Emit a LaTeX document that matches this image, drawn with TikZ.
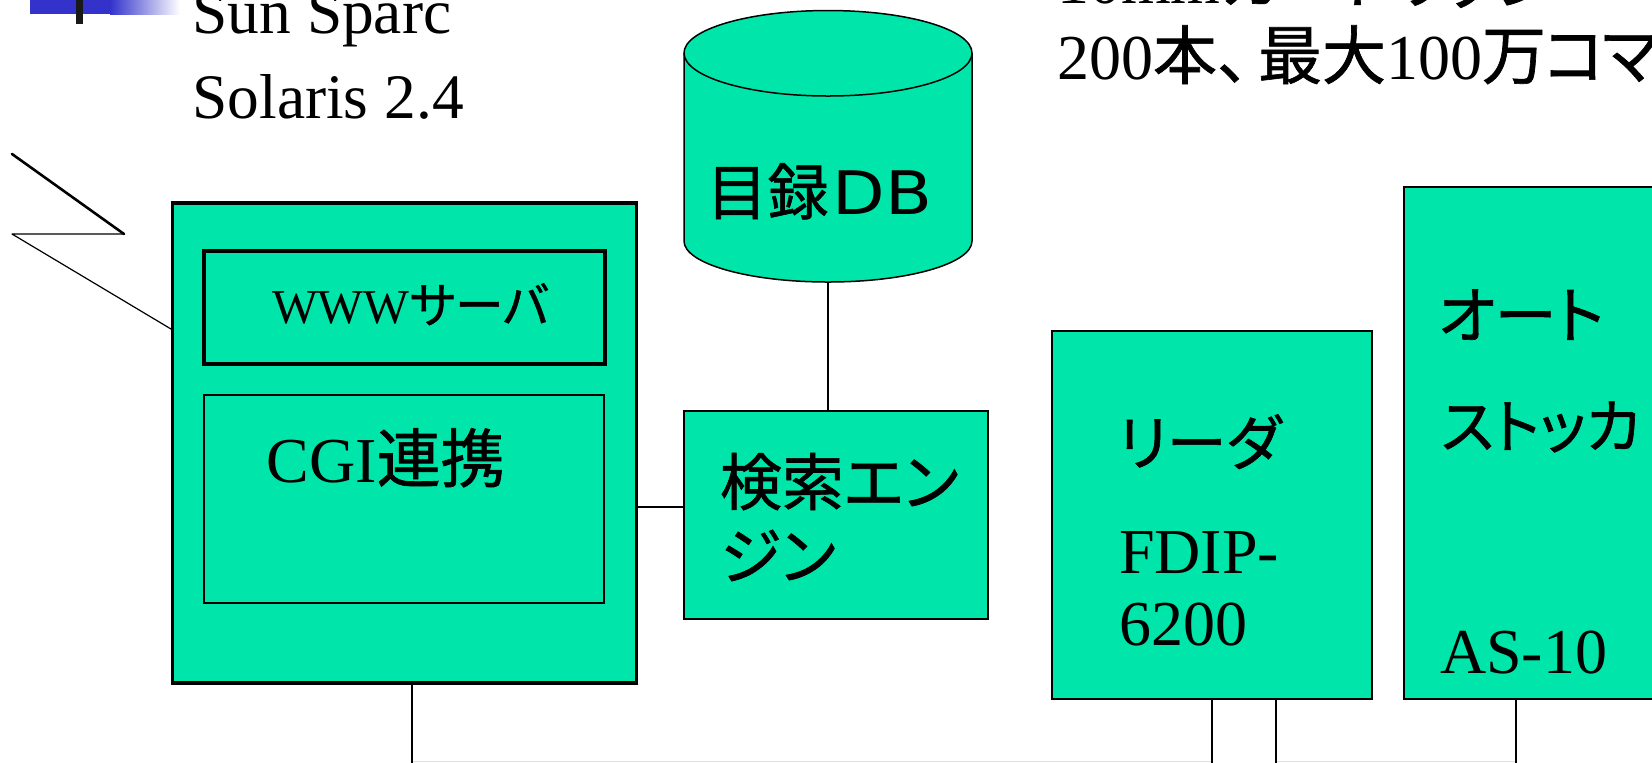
\documentclass[tikz,border=0pt]{standalone}
\usepackage{fontspec}
\setmainfont{Liberation Serif}
\newfontfamily\jpfont[FakeBold=1]{Noto Sans CJK JP}
\newfontfamily\jppfont[RawFeature=+palt,FakeBold=1]{Noto Sans CJK JP}
\newfontfamily\dbfont[FakeStretch=1.14]{DejaVu Sans}
\usepackage{tikz}
\newlength{\slideunit}
\setlength{\slideunit}{0.5pt}
\definecolor{boxgreen}{RGB}{0,230,170}
\definecolor{bulletblue}{RGB}{51,51,204}
\newcommand{\jp}[1]{{\jpfont #1}}
\newcommand{\jpp}[1]{{\jppfont #1}}
\newcommand{\slidesize}[1]{\fontsize{#1}{#1}\selectfont}
\tikzset{
  unit/.style={draw,fill=boxgreen,line width=0.75pt,minimum width=#1,inner sep=0pt,anchor=north west},
  label/.style={anchor=base west,inner sep=0pt,outer sep=0pt,font=\slidesize{32}},
  link/.style={line width=0.6pt},
  buswire/.style={line width=0.6pt,black!12}
}
\begin{document}
\begin{tikzpicture}[x=1\slideunit,y=-1\slideunit]
\clip (0,0) rectangle (1652,762);
% bullet
\shade[left color=bulletblue,right color=white,shading=axis] (110,0) rectangle (180,14);
\fill[bulletblue] (30,0) rectangle (110,14);
\fill[black!90] (76,0) rectangle (83,24);
% headings
\node[label,font=\slidesize{31.7}] (sun) at (192.5,33) {Sun Sparc};
\node[label,font=\slidesize{31.7}] (solaris) at (192.5,118) {Solaris 2.4};
\node[label] (tape) at (1057,3) {10mm\jpp{カートリッジ}};
\node[label] (count) at (1057,79) {200\jp{本、}\kern-11.5pt\jp{最大}100\jpp{万}\kern-1pt\jpp{コ}\kern-1.5pt\jpp{マ}};
% boxes
\node[unit=464\slideunit,minimum height=480\slideunit,line width=1.75pt] (server) at (170.5,201) {};
\node[unit=401\slideunit,minimum height=113\slideunit,line width=1.75pt] (www) at (202,249) {};
\node[unit=400\slideunit,minimum height=208\slideunit] (cgi) at (203,394) {};
\node[unit=304\slideunit,minimum height=208\slideunit] (engine) at (683,410) {};
\node[unit=320\slideunit,minimum height=368\slideunit] (reader) at (1051,330) {};
\node[unit=300\slideunit,minimum height=512\slideunit] (stocker) at (1403,186) {};
% database
\path[draw,fill=boxgreen,line width=0.75pt] (684,53) -- (684,241) arc[start angle=180,end angle=0,x radius=144,y radius=41]
  -- (972,53) arc[start angle=0,end angle=-180,x radius=144,y radius=42.5] -- cycle;
\draw[line width=0.75pt] (684,53) arc[start angle=180,end angle=0,x radius=144,y radius=43];
\coordinate (dbbottom) at (828,282);
% texts in boxes
\node[label,font=\slidesize{24.3}] (wwwtext) at (272,323) {WWW\jpp{サーバ}};
\node[label,font=\slidesize{32}] (cgitext) at (266.5,482) {CGI\jp{連携}};
\node[label,font=\slidesize{31}] (enginetext1) at (720,505) {\jpp{検索エン}};
\node[label,font=\slidesize{31}] (enginetext2) at (720,579) {\jpp{ジン}};
\node[label,font=\slidesize{30.5}] (dbtext) at (706.5,214.5) {\jpp{目録}\kern2pt{\dbfont\fontsize{30}{30}\selectfont DB}};
\node[label,font=\slidesize{30}] (readertext) at (1118,465) {\jpp{リーダ}};
\node[label] (fdip) at (1119,573) {FDIP-};
\node[label] (model) at (1119,645) {6200};
\node[label,font=\slidesize{31}] (autotext) at (1438,338) {\jpp{オート}};
\node[label,font=\slidesize{29.5}] (stocktext) at (1441,448) {\jpp{ストッカ}};
\node[label] (asten) at (1440,673) {AS-10};
% connectors
\coordinate (busa) at (412,764);
\coordinate (busb) at (1212,764);
\coordinate (busc) at (1276,764);
\coordinate (busd) at (1516,764);
\coordinate (busline) at (0,761.4);
\coordinate (boltstart) at (12,154);
\coordinate (boltmid) at (124,234);
\coordinate (boltend) at (12,234);
\coordinate (serverleft) at (171,329);
\coordinate (serverright) at (636,507);
\draw[link] (dbbottom) -- (dbbottom |- engine.north);
\draw[link] (serverright) -- (serverright -| engine.west);
\draw[buswire] (busa |- busline) -- (busb |- busline);
\draw[buswire] (busc |- busline) -- (busd |- busline);
\draw[link] (busa |- server.south) -- (busa);
\draw[link] (busb) -- (busb |- reader.south);
\draw[link] (busc |- reader.south) -- (busc);
\draw[link] (busd) -- (busd |- stocker.south);
\draw[line width=1.3pt,line cap=round] (boltstart) -- (boltmid);
\draw[link,line cap=round,line join=round] (boltmid) -- (boltend) -- (serverleft);
\end{tikzpicture}
\end{document}
